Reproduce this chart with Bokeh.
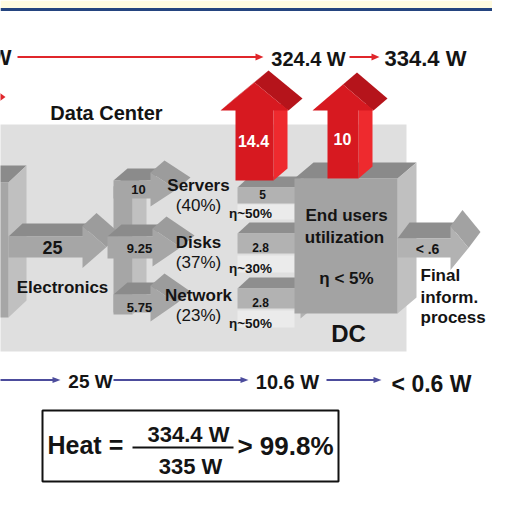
from bokeh.plotting import figure
from bokeh.models import Range1d
from bokeh.core.properties import value
from bokeh.embed import file_html
from bokeh.resources import INLINE

# ---------------- data ----------------
heat_chain = ["335 W", "324.4 W", "334.4 W"]          # red heat chain at top
heat_values = [14.4, 10]                              # red heat arrows
electronics_power = [25]
subsystems = ["Servers", "Disks", "Network"]
subsystem_share = ["(40%)", "(37%)", "(23%)"]
subsystem_in = [10, 9.25, 5.75]
subsystem_out = [5, 2.8, 2.8]
subsystem_eff = ["η~50%", "η~30%", "η~50%"]
end_user_lines = ["End users", "utilization", "η < 5%"]
final_output = ["< .6"]
final_lines = ["Final", "inform.", "process"]
useful_chain = ["25 W", "10.6 W", "< 0.6 W"]
heat_ratio = ["334.4 W", "335 W", "> 99.8%"]

FONT = value("Liberation Sans")

p = figure(width=492, height=492, x_range=Range1d(0, 492), y_range=Range1d(492, 0),
           output_backend="svg", toolbar_location=None, min_border=0,
           x_axis_location=None, y_axis_location=None)
p.grid.visible = False
p.outline_line_color = None
p.background_fill_color = "white"
p.border_fill_color = "white"

PX, PY, PC = [], [], []


def poly(xs, ys, c):
    PX.append(list(xs))
    PY.append(list(ys))
    PC.append(c)


def prism(pts, d, front, top, right, slope=None):
    n = len(pts)
    area = sum(pts[i][0] * pts[(i + 1) % n][1] - pts[(i + 1) % n][0] * pts[i][1] for i in range(n))
    for i in range(n):
        (x0, y0), (x1, y1) = pts[i], pts[(i + 1) % n]
        ex, ey = x1 - x0, y1 - y0
        nx, ny = (ey, -ex) if area > 0 else (-ey, ex)
        if nx * d[0] + ny * d[1] <= 1e-9:
            continue
        if abs(ex) < 1e-9:
            c = right
        elif abs(ey) < 1e-9:
            c = top
        else:
            c = slope or top
        poly([x0, x1, x1 + d[0], x0 + d[0]], [y0, y1, y1 + d[1], y0 + d[1]], c)
    poly([q[0] for q in pts], [q[1] for q in pts], front)


def right_arrow(x0, x1, tip, yc, h, H):
    return [(x0, yc - h), (x1, yc - h), (x1, yc - H), (tip, yc), (x1, yc + H), (x1, yc + h), (x0, yc + h)]


def up_arrow(xl, xr, xL, xR, hb, tipy, bottom):
    return [(xl, bottom), (xr, bottom), (xr, hb), (xR, hb), ((xL + xR) / 2, tipy), (xL, hb), (xl, hb)]


def box(x0, x1, y0, y1):
    return [(x0, y0), (x1, y0), (x1, y1), (x0, y1)]


GF, GT, GR, GS = "#A6A6A6", "#8B8B8B", "#C0C0C0", "#9C9C9C"
LF, LT, LR, LS = "#B2B2B2", "#8E8E8E", "#C4C4C4", "#A2A2A2"
RF, RR, RS = "#D71920", "#EE2A2E", "#B5141B"

# header band
poly([0, 508, 508, 0], [0, 0, 7.5, 7.5], "#FFFBE0")
poly([0, 508, 508, 0], [7.5, 7.5, 10.5, 10.5], "#24447F")
# data center box
poly([-10, 406, 406, -10], [124, 124, 351, 351], "#DFDFDF")

# left electronics block
prism(box(-30, 8, 182, 317), (18, -17), GF, GT, GR)
# distributor column
prism(box(113, 132, 186, 314), (14, -12), GF, GT, GR)
# 25 arrow
prism(right_arrow(8, 82, 106, 246.5, 10.5, 21), (14, -13), GF, GT, GR, GS)
# branch arrows
branch_geo = [(113, 150, 176, 189, 9, 17), (107, 152, 180, 247, 11, 19), (113, 150, 176, 303, 9, 18)]
for g in branch_geo:
    prism(right_arrow(*g), (14, -12), GF, GT, GR, GS)
# light strips below output arrows
for y0, y1 in [(204, 219), (255, 272), (310, 327)]:
    poly([237, 294, 294, 237], [y0, y0, y1, y1], "#EBEBEB")
# subsystem output arrows
out_geo = [(237, 300, 324, 195, 8, 20), (237, 300, 324, 243, 10, 20), (237, 300, 324, 298, 10, 20)]
for g in out_geo:
    prism(right_arrow(*g), (12, -11), LF, LT, LR, LS)
# end users block
prism(box(294, 397, 178, 313), (19, -16), "#A3A3A3", "#8A8A8A", "#C0C0C0")
# red heat arrows
prism(up_arrow(235, 273, 220, 288, 110, 82, 180), (14, -12), RF, RS, RR, RS)
prism(up_arrow(327, 358, 312, 373, 110, 84, 178), (14, -12), RF, RS, RR, RS)
# final output arrow
prism(right_arrow(397, 450, 468, 247.5, 9.5, 22), (12, -16), LF, LT, LR, LS)

# arrow heads for line arrows
RED, BLUE = "#E0262B", "#4C4C9C"
for tipx in [263, 379]:
    poly([tipx - 8, tipx, tipx - 8], [53, 56.5, 60], RED)
poly([-4, 5, -4], [90, 96.5, 103], RED)
for tipx in [60, 248, 381]:
    poly([tipx - 8, tipx, tipx - 8], [376.5, 379.5, 382.5], BLUE)

p.patches(PX, PY, fill_color=PC, line_color=None)

p.segment(x0=[17, 349], y0=[56.5, 56.5], x1=[256, 372], y1=[56.5, 56.5], line_color=RED, line_width=2)
p.segment(x0=[-5, 113, 326], y0=[379.5] * 3, x1=[53, 241, 374], y1=[379.5] * 3, line_color=BLUE, line_width=2)

# heat ratio box
p.quad(left=[42], right=[338], top=[410], bottom=[481], fill_color=None, line_color="#111111", line_width=2)
p.segment(x0=[132], y0=[447], x1=[233], y1=[447], line_color="#111111", line_width=2)


def txt(x, y, s, size, color="#141414", bold=True, align="center"):
    p.text(x=x, y=y, text=s, text_font=FONT, text_font_size=value(f"{size}px"),
           text_font_style="bold" if bold else "normal", text_color=color,
           text_align=align, text_baseline="middle")


def fmt(v):
    return f"{v:g}"


# top chain
txt([11], [57], [heat_chain[0]], 22, align="right")
txt([308], [58], [heat_chain[1]], 20)
txt([425], [57.5], [heat_chain[2]], 22)
txt([106], [112], ["Data Center"], 20)
txt([253, 342], [140, 138], [fmt(v) for v in heat_values], 16, color="white")
txt([52], [247], [fmt(v) for v in electronics_power], 18)
txt([62], [287], ["Electronics"], 17)
txt([138, 139, 139], [189, 248, 307], [fmt(v) for v in subsystem_in], 13)
txt([198] * 3, [185, 242, 295], subsystems, 17)
txt([198] * 3, [205, 262, 315], subsystem_share, 17, bold=False)
txt([262, 260, 260], [194, 247, 302], [fmt(v) for v in subsystem_out], 12)
txt([250] * 3, [213, 268, 323], subsystem_eff, 13.5)
txt([346, 344, 346], [215, 237, 278], end_user_lines, 17)
txt([348], [333], ["DC"], 24)
txt([427], [248], final_output, 14)
txt([420] * 3, [275, 297, 317], final_lines, 17, align="left")
# useful chain
txt([90], [381], [useful_chain[0]], 19)
txt([287], [381], [useful_chain[1]], 20)
txt([431], [383], [useful_chain[2]], 23)
# heat ratio
txt([47], [444], ["Heat ="], 25, align="left")
txt([188, 190], [434, 466], heat_ratio[:2], 22)
txt([285], [445], [heat_ratio[2]], 26)

open("out.html", "w").write(file_html(p, INLINE))
